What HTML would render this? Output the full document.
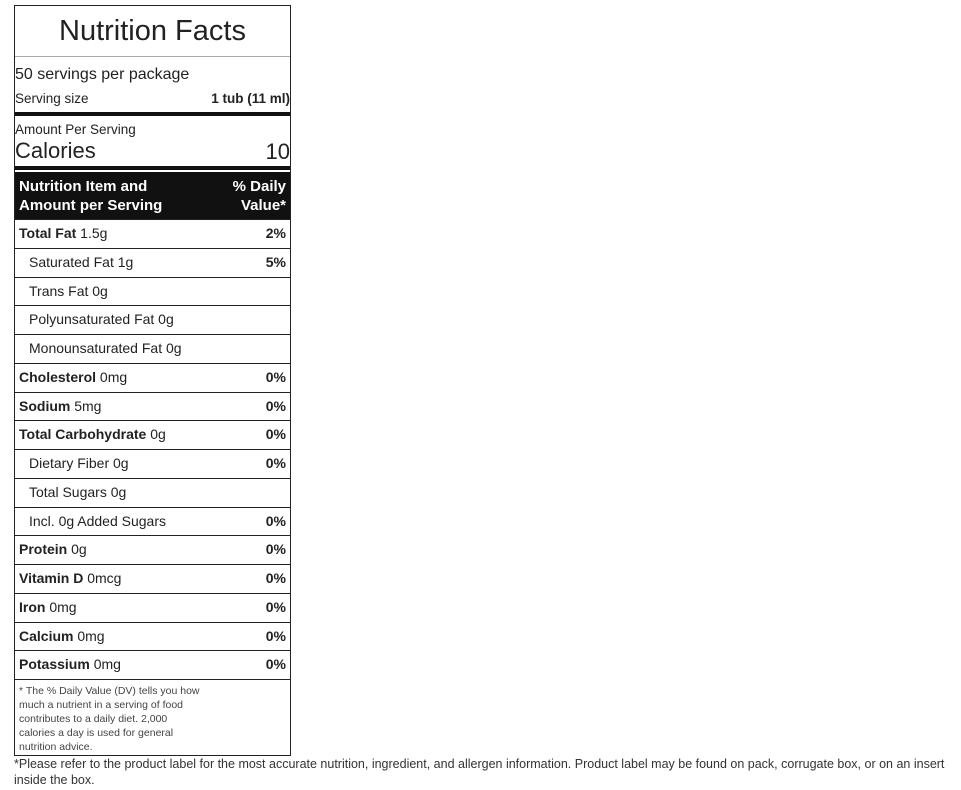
<!DOCTYPE html>
<html><head><meta charset="utf-8"><style>
body{margin:0;width:961px;height:790px;background:#fff;font-family:"Liberation Sans",sans-serif;color:#222;position:relative;overflow:hidden}
.box{position:absolute;left:14px;top:5px;width:275px;height:749px;border:1px solid #222}
.a{position:absolute;white-space:nowrap}
.row{position:absolute;left:0;width:275px;height:28.75px;border-top:1px solid #222;box-sizing:border-box;font-size:14px;line-height:27px}
.row .l{position:absolute;left:4px}
.row .l.i{left:14px}
.row .r{position:absolute;right:4px;font-weight:bold}
b{font-weight:bold}
</style></head><body>
<div class="box">
<div class="a" style="left:0;width:275px;text-align:center;top:9px;font-size:29px">Nutrition Facts</div>
<div class="a" style="left:0;top:50px;width:275px;height:1px;background:#aaa"></div>
<div class="a" style="left:0;top:60px;font-size:16px">50 servings per package</div>
<div class="a" style="left:0;top:85px;font-size:13.5px">Serving size</div>
<div class="a" style="right:0;top:85px;font-size:13.5px;font-weight:bold">1 tub (11 ml)</div>
<div class="a" style="left:0;top:106px;width:275px;height:4px;background:#111"></div>
<div class="a" style="left:0;top:116px;font-size:13.5px">Amount Per Serving</div>
<div class="a" style="left:0;top:132px;font-size:22px">Calories</div>
<div class="a" style="right:0;top:133px;font-size:22px">10</div>
<div class="a" style="left:0;top:160px;width:275px;height:4px;background:#111"></div>
<div class="a" style="left:0;top:166px;width:275px;height:47px;background:#111;color:#fff;font-weight:bold;font-size:15px;line-height:19px">
<div class="a" style="left:4px;top:5px">Nutrition Item and<br>Amount per Serving</div>
<div class="a" style="right:4px;top:5px;text-align:right">% Daily<br>Value*</div>
</div>
<div id="rows"></div>
<div class="a" style="left:4px;top:678px;font-size:10.5px;line-height:14px;color:#444">* The % Daily Value (DV) tells you how<br>much a nutrient in a serving of food<br>contributes to a daily diet. 2,000<br>calories a day is used for general<br>nutrition advice.</div>
</div>
<div class="a" style="left:14px;top:756px;width:932px;font-size:12.5px;line-height:16px;color:#333;white-space:normal">*Please refer to the product label for the most accurate nutrition, ingredient, and allergen information. Product label may be found on pack, corrugate box, or on an insert inside the box.</div>
<script>
const names=["Total Fat","Saturated Fat","Trans Fat","Polyunsaturated Fat","Monounsaturated Fat","Cholesterol","Sodium","Total Carbohydrate","Dietary Fiber","Total Sugars","Incl. 0g Added Sugars","Protein","Vitamin D","Iron","Calcium","Potassium"];
const amounts=["1.5g","1g","0g","0g","0g","0mg","5mg","0g","0g","0g","","0g","0mcg","0mg","0mg","0mg"];
const dv=["2%","5%","","","","0%","0%","0%","0%","","0%","0%","0%","0%","0%","0%"];
const indent=[0,1,1,1,1,0,0,0,1,1,1,0,0,0,0,0];
const c=document.getElementById('rows');
names.forEach((n,i)=>{
 const r=document.createElement('div');
 r.className='row';
 
 
 r.style.top=(213+i*28.75)+'px';
 const l=document.createElement('span');
 l.className='l'+(indent[i]?' i':'');
 l.innerHTML=(indent[i]?n:'<b>'+n+'</b>')+(amounts[i]?' '+amounts[i]:'');
 r.appendChild(l);
 const v=document.createElement('span');
 v.className='r';v.textContent=dv[i];
 r.appendChild(v);
 c.appendChild(r);
});
const last=document.createElement('div');
last.className='row';


last.style.top=(213+16*28.75)+'px';last.style.height='1px';
c.appendChild(last);
</script>
</body></html>
